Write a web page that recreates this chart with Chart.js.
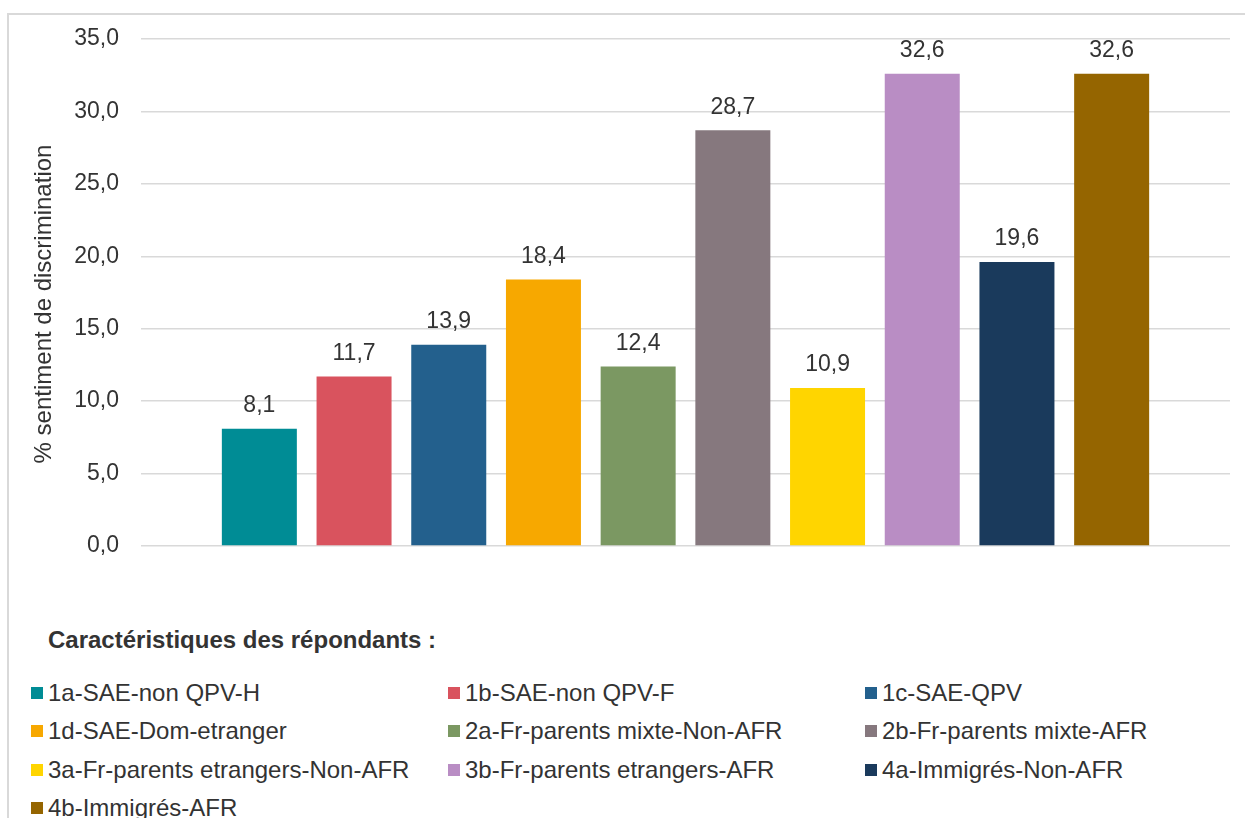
<!DOCTYPE html>
<html lang="fr">
<head>
<meta charset="utf-8">
<title>Sentiment de discrimination</title>
<script src="https://cdn.jsdelivr.net/npm/chart.js@4/dist/chart.umd.min.js"></script>
<style>
  html, body { margin: 0; padding: 0; background: #fff; }
  #wrap { position: relative; width: 1245px; height: 818px; overflow: hidden; font-family: "Liberation Sans", Arial, sans-serif; color: #333; }
  #frame { position: absolute; left: 7px; top: 13px; width: 1300px; height: 900px; border-left: 2px solid #d9d9d9; border-top: 2px solid #d9d9d9; }
  #chart { position: absolute; left: 0; top: 0; }
  #legendTitle { position: absolute; left: 48px; top: 626px; font-size: 24px; font-weight: bold; line-height: 28px; white-space: nowrap; }
  .item { position: absolute; height: 28px; display: flex; align-items: center; font-size: 24px; line-height: 28px; white-space: nowrap; }
  .item .box { width: 12px; height: 12px; margin-right: 5px; flex: none; }
</style>
</head>
<body>
<div id="wrap">
  <div id="frame"></div>
  <canvas id="chart" width="1245" height="600"></canvas>
  <div id="legendTitle">Caractéristiques des répondants :</div>
  <div id="legend"></div>
</div>
<script>
// Données
const categories = [
    '1a-SAE-non QPV-H',
    '1b-SAE-non QPV-F',
    '1c-SAE-QPV',
    '1d-SAE-Dom-etranger',
    '2a-Fr-parents mixte-Non-AFR',
    '2b-Fr-parents mixte-AFR',
    '3a-Fr-parents etrangers-Non-AFR',
    '3b-Fr-parents etrangers-AFR',
    '4a-Immigrés-Non-AFR',
    '4b-Immigrés-AFR'
];
const values = [8.1, 11.7, 13.9, 18.4, 12.4, 28.7, 10.9, 32.6, 19.6, 32.6];
const colors = ['#008C95', '#D9535E', '#23608D', '#F7A800', '#7B9862', '#86787E', '#FFD500', '#B98DC4', '#1A3A5C', '#956500'];
const yMin = 0;
const yMax = 35;
const yStep = 5;
const yTitle = '% sentiment de discrimination';

const textColor = '#333';
const fmt = v => v.toFixed(1).replace('.', ',');

// Étiquettes de valeurs au-dessus des barres
const valueLabels = {
    id: 'valueLabels',
    afterDatasetsDraw(chart) {
        const ctx = chart.ctx;
        ctx.save();
        ctx.font = '23px "Liberation Sans", Arial, sans-serif';
        ctx.fillStyle = textColor;
        ctx.textAlign = 'center';
        ctx.textBaseline = 'middle';
        chart.data.datasets.forEach((ds, i) => {
            const bar = chart.getDatasetMeta(i).data[0];
            if (bar) ctx.fillText(fmt(ds.data[0]), bar.x, bar.y - 23);
        });
        ctx.restore();
    }
};

// Titre de l'axe vertical
const axisTitle = {
    id: 'axisTitle',
    afterDraw(chart) {
        const ctx = chart.ctx;
        ctx.save();
        ctx.translate(44, 304);
        ctx.rotate(-Math.PI / 2);
        ctx.font = '24px "Liberation Sans", Arial, sans-serif';
        ctx.fillStyle = textColor;
        ctx.textAlign = 'center';
        ctx.textBaseline = 'middle';
        ctx.fillText(yTitle, 0, 0);
        ctx.restore();
    }
};

const chart = new Chart(document.getElementById('chart'), {
    type: 'bar',
    data: {
        labels: [''],
        datasets: categories.map((name, i) => ({
            label: name,
            data: [values[i]],
            backgroundColor: colors[i],
            borderWidth: 0
        }))
    },
    options: {
        responsive: false,
        animation: false,
        categoryPercentage: 0.8696,
        barPercentage: 0.792,
        layout: { padding: { top: 39, bottom: 54, right: 15, left: 0 } },
        plugins: {
            legend: { display: false },
            tooltip: { enabled: false }
        },
        scales: {
            x: { display: false },
            y: {
                min: yMin,
                max: yMax,
                border: { display: false },
                grid: { color: '#d9d9d9', lineWidth: 1.5, drawTicks: false },
                ticks: {
                    stepSize: yStep,
                    padding: 22,
                    color: textColor,
                    font: { family: '"Liberation Sans", Arial, sans-serif', size: 23 },
                    callback: v => fmt(v)
                },
                afterFit(scale) { scale.width = 141; }
            }
        }
    },
    plugins: [valueLabels, axisTitle]
});

// Légende en trois colonnes
const legendEl = document.getElementById('legend');
const colX = [31, 448, 865];
chart.data.datasets.forEach((ds, i) => {
    const item = document.createElement('div');
    item.className = 'item';
    item.style.left = colX[i % 3] + 'px';
    item.style.top = Math.round(679 + Math.floor(i / 3) * 38.3) + 'px';
    const box = document.createElement('span');
    box.className = 'box';
    box.style.background = ds.backgroundColor;
    item.appendChild(box);
    item.appendChild(document.createTextNode(ds.label));
    legendEl.appendChild(item);
});
</script>
</body>
</html>
